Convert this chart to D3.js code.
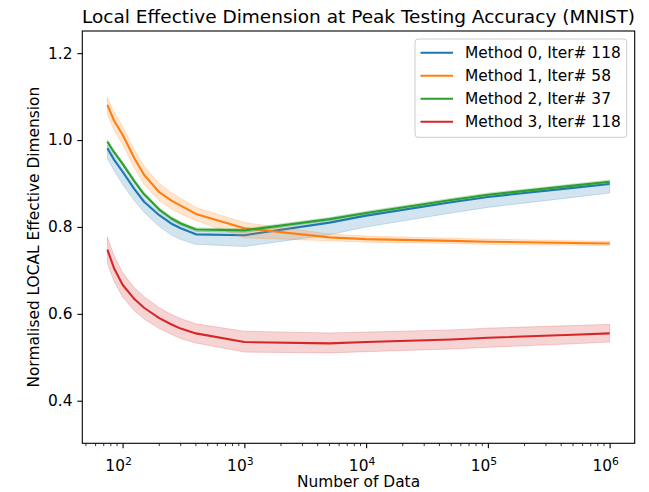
<!DOCTYPE html>
<html>
<head>
<meta charset="utf-8">
<script src="https://cdn.jsdelivr.net/npm/d3@7"></script>
<style>
  body { margin: 0; background: #fff; }
  svg { display: block; font-family: "DejaVu Sans", sans-serif; }
</style>
</head>
<body>
<svg width="649" height="492"></svg>
<script>
const svg = d3.select('svg');

// data
const nData = [75, 85, 100, 125, 150, 200, 250, 300, 400, 1000, 5000, 10000, 50000, 100000, 500000, 1000000];
const methodNames = ["Method 0, Iter# 118", "Method 1, Iter# 58", "Method 2, Iter# 37", "Method 3, Iter# 118"];
const colors = ["#1f77b4", "#ff7f0e", "#2ca02c", "#d62728"];

const mean0 = [0.981, 0.955, 0.927, 0.887, 0.858, 0.827, 0.808, 0.797, 0.783, 0.781, 0.810, 0.826, 0.857, 0.869, 0.890, 0.899];
const low0  = [0.958, 0.930, 0.898, 0.860, 0.834, 0.801, 0.782, 0.771, 0.760, 0.755, 0.782, 0.800, 0.832, 0.845, 0.868, 0.878];
const high0 = [0.989, 0.963, 0.935, 0.895, 0.866, 0.834, 0.815, 0.804, 0.790, 0.788, 0.816, 0.832, 0.862, 0.874, 0.895, 0.904];

const mean1 = [1.081, 1.045, 1.012, 0.958, 0.920, 0.880, 0.861, 0.849, 0.830, 0.797, 0.776, 0.772, 0.768, 0.766, 0.763, 0.762];
const low1  = [1.058, 1.023, 0.990, 0.936, 0.898, 0.860, 0.842, 0.830, 0.815, 0.775, 0.768, 0.765, 0.762, 0.760, 0.758, 0.757];
const high1 = [1.098, 1.064, 1.032, 0.977, 0.940, 0.900, 0.879, 0.866, 0.845, 0.810, 0.784, 0.779, 0.774, 0.772, 0.768, 0.767];

const mean2 = [0.996, 0.972, 0.945, 0.905, 0.875, 0.840, 0.820, 0.808, 0.794, 0.792, 0.818, 0.832, 0.862, 0.874, 0.895, 0.904];
const low2  = [0.991, 0.967, 0.940, 0.900, 0.870, 0.836, 0.816, 0.804, 0.790, 0.788, 0.814, 0.828, 0.858, 0.870, 0.891, 0.900];
const high2 = [1.001, 0.977, 0.950, 0.910, 0.880, 0.844, 0.824, 0.812, 0.798, 0.796, 0.822, 0.836, 0.866, 0.878, 0.899, 0.908];

const mean3 = [0.748, 0.705, 0.667, 0.634, 0.614, 0.590, 0.576, 0.566, 0.555, 0.535, 0.532, 0.535, 0.541, 0.545, 0.552, 0.555];
const low3  = [0.716, 0.675, 0.639, 0.607, 0.588, 0.566, 0.553, 0.543, 0.533, 0.512, 0.510, 0.513, 0.519, 0.523, 0.531, 0.535];
const high3 = [0.777, 0.734, 0.695, 0.660, 0.640, 0.614, 0.599, 0.589, 0.577, 0.560, 0.556, 0.558, 0.563, 0.567, 0.573, 0.576];

const yTicks = [0.4, 0.6, 0.8, 1.0, 1.2];
const xTicks = [100, 1000, 10000, 100000, 1000000];

const series = [
    {mean: mean0, low: low0, high: high0},
    {mean: mean1, low: low1, high: high1},
    {mean: mean2, low: low2, high: high2},
    {mean: mean3, low: low3, high: high3}
];

const fontSize = 15.4;
const margin = {left: 82.3, right: 14.3, top: 31, bottom: 48.7};
const width = 649, height = 492;
const innerWidth = width - margin.left - margin.right;
const innerHeight = height - margin.top - margin.bottom;

const xScale = d3.scaleLog()
    .domain([Math.pow(10, 1.669), Math.pow(10, 6.206)])
    .range([0, innerWidth]);
const yScale = d3.scaleLinear()
    .domain([0.302, 1.251])
    .range([innerHeight, 0]);

const g = svg.append('g')
    .attr('transform', `translate(${margin.left},${margin.top})`);

// bands and lines
series.forEach((s, k) => {
    const rows = nData.map((n, i) => ({n, m: s.mean[i], lo: s.low[i], hi: s.high[i]}));
    const area = d3.area()
        .x(d => xScale(d.n))
        .y0(d => yScale(d.lo))
        .y1(d => yScale(d.hi));
    const line = d3.line()
        .x(d => xScale(d.n))
        .y(d => yScale(d.m));
    g.append('path')
        .datum(rows)
        .attr('d', area)
        .attr('fill', colors[k])
        .attr('fill-opacity', 0.2)
        .attr('stroke', colors[k])
        .attr('stroke-opacity', 0.2)
        .attr('stroke-width', 1);
    g.append('path')
        .datum(rows)
        .attr('d', line)
        .attr('fill', 'none')
        .attr('stroke', colors[k])
        .attr('stroke-width', 2.1)
        .attr('stroke-linejoin', 'round');
});

// y axis
const yAxis = d3.axisLeft(yScale)
    .tickValues(yTicks)
    .tickFormat(d3.format('.1f'))
    .tickSize(4.9)
    .tickPadding(4.9);
const yAxisG = g.append('g').call(yAxis);
yAxisG.select('.domain').remove();
yAxisG.selectAll('line').attr('stroke', '#000').attr('stroke-width', 1.1);
yAxisG.selectAll('text')
    .attr('font-size', fontSize)
    .attr('font-family', '"DejaVu Sans", sans-serif')
    .attr('fill', '#000');

// x axis: major ticks (labels drawn separately)
const xAxis = d3.axisBottom(xScale)
    .tickValues(xTicks)
    .tickFormat('')
    .tickSize(4.9);
const xAxisG = g.append('g')
    .attr('transform', `translate(0,${innerHeight})`)
    .call(xAxis);
xAxisG.select('.domain').remove();
xAxisG.selectAll('.tick text').remove();
xAxisG.selectAll('line').attr('stroke', '#000').attr('stroke-width', 1.1);

// minor ticks
const minorTicks = [];
for (let e = 1; e <= 6; e++) {
    for (let m = 2; m <= 9; m++) {
        const v = m * Math.pow(10, e);
        if (v >= xScale.domain()[0] && v <= xScale.domain()[1]) minorTicks.push(v);
    }
}
g.append('g')
    .selectAll('line')
    .data(minorTicks)
    .join('line')
    .attr('x1', d => xScale(d))
    .attr('x2', d => xScale(d))
    .attr('y1', innerHeight)
    .attr('y2', innerHeight + 2.8)
    .attr('stroke', '#000')
    .attr('stroke-width', 0.8);

// x tick labels like 10^2
const xLabels = g.append('g')
    .selectAll('text')
    .data(xTicks)
    .join('text')
    .attr('x', d => xScale(d) - 4)
    .attr('y', innerHeight + 27.5)
    .attr('text-anchor', 'middle')
    .attr('font-size', fontSize)
    .attr('fill', '#000');
xLabels.append('tspan').text('10');
xLabels.append('tspan')
    .attr('font-size', 10.8)
    .attr('dy', -6)
    .text(d => Math.round(Math.log10(d)));

// spines
g.append('rect')
    .attr('width', innerWidth)
    .attr('height', innerHeight)
    .attr('fill', 'none')
    .attr('stroke', '#000')
    .attr('stroke-width', 1.1);

// axis labels and title
svg.append('text')
    .attr('x', margin.left + innerWidth / 2)
    .attr('y', 487)
    .attr('text-anchor', 'middle')
    .attr('font-size', fontSize)
    .text('Number of Data');

svg.append('text')
    .attr('transform', `translate(38.5,${margin.top + innerHeight / 2}) rotate(-90)`)
    .attr('text-anchor', 'middle')
    .attr('font-size', fontSize)
    .text('Normalised LOCAL Effective Dimension');

svg.append('text')
    .attr('x', margin.left + innerWidth / 2)
    .attr('y', 23)
    .attr('text-anchor', 'middle')
    .attr('font-size', 18.5)
    .text('Local Effective Dimension at Peak Testing Accuracy (MNIST)');

// legend
const legend = svg.append('g').attr('transform', 'translate(415,39)');
legend.append('rect')
    .attr('width', 211.7)
    .attr('height', 98.3)
    .attr('rx', 3)
    .attr('fill', '#fff')
    .attr('fill-opacity', 0.8)
    .attr('stroke', '#ccc')
    .attr('stroke-width', 1);
const items = legend.selectAll('g.item')
    .data(methodNames)
    .join('g')
    .attr('class', 'item')
    .attr('transform', (d, i) => `translate(0,${13.7 + i * 23})`);
items.append('line')
    .attr('x1', 5.5).attr('x2', 38)
    .attr('stroke', (d, i) => colors[i])
    .attr('stroke-width', 2.1);
items.append('text')
    .attr('x', 50)
    .attr('y', 5.5)
    .attr('font-size', fontSize)
    .text(d => d);
</script>
</body>
</html>
